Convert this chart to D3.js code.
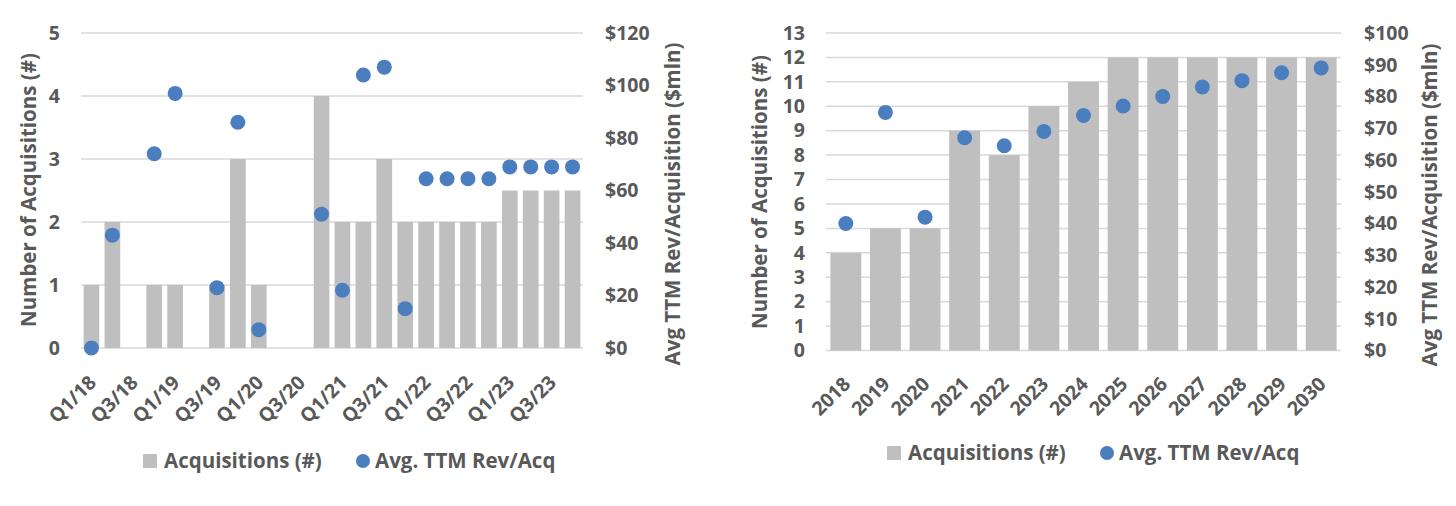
<!DOCTYPE html>
<html>
<head>
<meta charset="utf-8">
<script src="https://cdn.jsdelivr.net/npm/d3@7"></script>
<style>
  html, body { margin: 0; padding: 0; background: #fff; }
  svg text { font-family: "Open Sans", sans-serif; font-weight: bold; fill: #595959; }
</style>
</head>
<body>
<svg id="chart" width="1456" height="506"></svg>
<script>
// ---- Data ----
const quarters = ["Q1/18","Q2/18","Q3/18","Q4/18","Q1/19","Q2/19","Q3/19","Q4/19",
                  "Q1/20","Q2/20","Q3/20","Q4/20","Q1/21","Q2/21","Q3/21","Q4/21",
                  "Q1/22","Q2/22","Q3/22","Q4/22","Q1/23","Q2/23","Q3/23","Q4/23"];
const quarterlyAcquisitions = [1,2,0,1,1,0,1,3,1,0,0,4,2,2,3,2,2,2,2,2,2.5,2.5,2.5,2.5];
const quarterlyRevPerAcq = [0,43,null,74,97,null,23,86,7,null,null,51,22,104,107,15,
                            64.5,64.5,64.5,64.5,69,69,69,69];
const quarterTickLabels = ["Q1/18","Q3/18","Q1/19","Q3/19","Q1/20","Q3/20","Q1/21","Q3/21",
                           "Q1/22","Q3/22","Q1/23","Q3/23"];

const years = ["2018","2019","2020","2021","2022","2023","2024","2025","2026","2027","2028","2029","2030"];
const annualAcquisitions = [4,5,5,9,8,10,11,12,12,12,12,12,12];
const annualRevPerAcq = [40,75,42,67,64.5,69,74,77,80,83,85,87.5,89];

const leftTicksQ = [0,1,2,3,4,5];
const rightTicksQ = [0,20,40,60,80,100,120];
const leftTicksA = [0,1,2,3,4,5,6,7,8,9,10,11,12,13];
const rightTicksA = [0,10,20,30,40,50,60,70,80,90,100];

const seriesNames = ["Acquisitions (#)", "Avg. TTM Rev/Acq"];
const leftTitle = "Number of Acquisitions (#)";
const rightTitle = "Avg TTM Rev/Acquisition ($mln)";

// ---- Styles ----
const BAR = "#bfbfbf", DOT = "#4a7ebf", GRID = "#d9d9d9", TXT = "#595959";
const FS_TICK = 19.5, FS_LEG = 20.5, FS_TITLE = 20.5;

const svg = d3.select("#chart");
svg.append("rect").attr("width",1456).attr("height",506).attr("fill","#fff");

function drawChart(cfg) {
  const g = svg.append("g");
  const x = d3.scaleBand().domain(cfg.cats).range([cfg.x0, cfg.x1]).paddingInner(cfg.pad).paddingOuter(cfg.pad/2);
  const yL = d3.scaleLinear().domain([0, d3.max(cfg.lt)]).range([cfg.y0, cfg.y1]);
  const yR = d3.scaleLinear().domain([0, d3.max(cfg.rt)]).range([cfg.y0, cfg.y1]);

  // gridlines
  g.append("g").selectAll("line").data(cfg.lt).join("line")
    .attr("x1", cfg.x0).attr("x2", cfg.x1)
    .attr("y1", d => yL(d)).attr("y2", d => yL(d))
    .attr("stroke", GRID).attr("stroke-width", 1.5);

  // bars
  g.append("g").selectAll("rect").data(cfg.cats.map((c,i)=>({c, v: cfg.bars[i]}))).join("rect")
    .attr("x", d => x(d.c)).attr("width", x.bandwidth())
    .attr("y", d => yL(d.v)).attr("height", d => yL(0) - yL(d.v))
    .attr("fill", BAR);

  // dots
  g.append("g").selectAll("circle")
    .data(cfg.cats.map((c,i)=>({c, v: cfg.dots[i]})).filter(d => d.v !== null)).join("circle")
    .attr("cx", d => x(d.c) + x.bandwidth()/2).attr("cy", d => yR(d.v))
    .attr("r", 7.5).attr("fill", DOT);

  // left axis
  const la = g.append("g").attr("transform", `translate(${cfg.lax},0)`)
    .call(d3.axisLeft(yL).tickValues(cfg.lt).tickFormat(d3.format("d")).tickSize(0).tickPadding(0));
  la.select(".domain").remove();
  la.selectAll("text").style("font-size", FS_TICK + "px").attr("fill", TXT);

  // right axis
  const ra = g.append("g").attr("transform", `translate(${cfg.rax},0)`)
    .call(d3.axisRight(yR).tickValues(cfg.rt).tickFormat(d => "$" + d).tickSize(0).tickPadding(0));
  ra.select(".domain").remove();
  ra.selectAll("text").style("font-size", FS_TICK + "px").attr("fill", TXT);

  // bottom axis
  const ba = g.append("g").attr("transform", `translate(0,${cfg.y0})`)
    .call(d3.axisBottom(x).tickValues(cfg.xt).tickSize(0).tickPadding(0));
  ba.select(".domain").remove();
  ba.selectAll("text")
    .style("font-size", FS_TICK + "px").attr("fill", TXT)
    .attr("text-anchor", "end")
    .attr("dy", "0.35em")
    .attr("transform", `translate(${cfg.xlx},${cfg.xly}) rotate(-45)`);

  // axis titles
  g.append("text").attr("transform", `translate(${cfg.ltx},${cfg.lty}) rotate(-90)`)
    .attr("text-anchor","middle").attr("dy","0.35em").style("font-size", FS_TITLE + "px").text(leftTitle);
  g.append("text").attr("transform", `translate(${cfg.rtx},${cfg.rty}) rotate(-90)`)
    .attr("text-anchor","middle").attr("dy","0.35em").style("font-size", FS_TITLE + "px").text(rightTitle);

  // legend
  const lg = g.append("g").attr("transform", `translate(${cfg.legX},${cfg.legY})`);
  lg.append("rect").attr("x",0).attr("y",-7).attr("width",14).attr("height",14).attr("fill",BAR);
  lg.append("text").attr("x",21).attr("dy","0.35em").style("font-size", FS_LEG + "px").text(seriesNames[0]);
  lg.append("circle").attr("cx", cfg.legDot).attr("cy",0).attr("r",7).attr("fill",DOT);
  lg.append("text").attr("x", cfg.legDot + 12).attr("dy","0.35em").style("font-size", FS_LEG + "px").text(seriesNames[1]);
}

drawChart({
  cats: quarters, bars: quarterlyAcquisitions, dots: quarterlyRevPerAcq, xt: quarterTickLabels,
  lt: leftTicksQ, rt: rightTicksQ,
  x0: 81, x1: 583, y0: 348, y1: 33, pad: 0.25,
  lax: 60, rax: 605, xlx: 1, xly: 31,
  ltx: 29, lty: 190, rtx: 673, rty: 204,
  legX: 143, legY: 461, legDot: 220
});

drawChart({
  cats: years, bars: annualAcquisitions, dots: annualRevPerAcq, xt: years,
  lt: leftTicksA, rt: rightTicksA,
  x0: 826, x1: 1341, y0: 350.5, y1: 33, pad: 0.22,
  lax: 805, rax: 1364, xlx: 1, xly: 30,
  ltx: 760, lty: 192, rtx: 1430, rty: 205,
  legX: 887, legY: 453, legDot: 220
});
</script>
</body>
</html>
